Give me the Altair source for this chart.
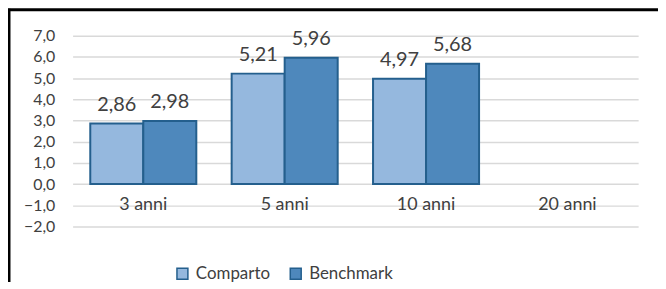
import altair as alt
import pandas as pd

categories = ["3 anni", "5 anni", "10 anni", "20 anni"]
series = ["Comparto", "Benchmark"]
comparto = [2.86, 5.21, 4.97, None]
benchmark = [2.98, 5.96, 5.68, None]
y_ticks = [-2, -1, 0, 1, 2, 3, 4, 5, 6, 7]

rows = []
for c, a, b in zip(categories, comparto, benchmark):
    rows.append({"cat": c, "serie": "Comparto", "val": a})
    rows.append({"cat": c, "serie": "Benchmark", "val": b})
df = pd.DataFrame(rows)
df_bars = df.dropna()
df_bars = df_bars.assign(lab=df_bars["val"].map(lambda v: f"{v:.2f}".replace(".", ",")))
df_cat = pd.DataFrame({"cat": categories, "pos": [-1] * len(categories)})

FONT = "Lato"
TXT = "#404040"

xscale = alt.Scale(domain=categories, paddingInner=0.25, paddingOuter=0.125)
yscale = alt.Scale(domain=[-2, 7], nice=False, zero=False)
yaxis = alt.Axis(values=y_ticks, title=None, domain=False, ticks=False,
                 labelExpr="replace(format(datum.value,'.1f'),'.',',')",
                 labelFont=FONT, labelFontSize=16, labelColor=TXT, labelPadding=18,
                 labelOverlap=False, gridColor="#D9D9D9", gridWidth=1.5)
color = alt.Color("serie:N", sort=series,
                  scale=alt.Scale(domain=series, range=["#95B8DE", "#4E88BC"]),
                  legend=alt.Legend(title=None, orient="none", direction="horizontal",
                                    legendX=102, legendY=231, symbolType="square",
                                    symbolSize=121, symbolStrokeColor="#245F8D",
                                    symbolStrokeWidth=1.5, labelFont=FONT, labelFontSize=17,
                                    labelColor=TXT, columnPadding=17, symbolOffset=0,
                                    labelOffset=5))

base_x = alt.X("cat:N", scale=xscale, sort=categories, axis=None)
xoff = alt.XOffset("serie:N", sort=series, scale=alt.Scale(domain=series, paddingInner=0, paddingOuter=0))

bars = alt.Chart(df_bars).mark_bar(stroke="#245F8D", strokeWidth=2).encode(
    x=base_x,
    xOffset=xoff,
    y=alt.Y("val:Q", scale=yscale, axis=yaxis),
    y2=alt.datum(0),
    color=color,
)

labels = alt.Chart(df_bars).mark_text(font=FONT, fontSize=20, color=TXT, baseline="alphabetic", dy=-13).encode(
    x=base_x,
    xOffset=xoff,
    y=alt.Y("val:Q", scale=yscale, axis=yaxis),
    text="lab:N",
)

catlabels = alt.Chart(df_cat).mark_text(font=FONT, fontSize=18, color=TXT, baseline="middle").encode(
    x=base_x,
    y=alt.Y("pos:Q", scale=yscale, axis=yaxis),
    text="cat:N",
)

border_left = alt.Chart(pd.DataFrame({"a": [0]})).mark_rule(color="black", strokeWidth=3).encode(
    x=alt.value(-64), y=alt.value(-27), y2=alt.value(270))
border_top = alt.Chart(pd.DataFrame({"a": [0]})).mark_rule(color="black", strokeWidth=3).encode(
    x=alt.value(-65), x2=alt.value(620), y=alt.value(-26))

chart = alt.layer(bars, labels, catlabels, border_left, border_top).properties(
    width=569, height=192,
    background="white",
    autosize=alt.AutoSizeParams(type="none"),
    padding={"left": 65, "top": 27, "right": 20, "bottom": 55},
).configure_view(strokeWidth=0)

chart.save("out.html", embed_options={"renderer": "svg", "actions": False})
